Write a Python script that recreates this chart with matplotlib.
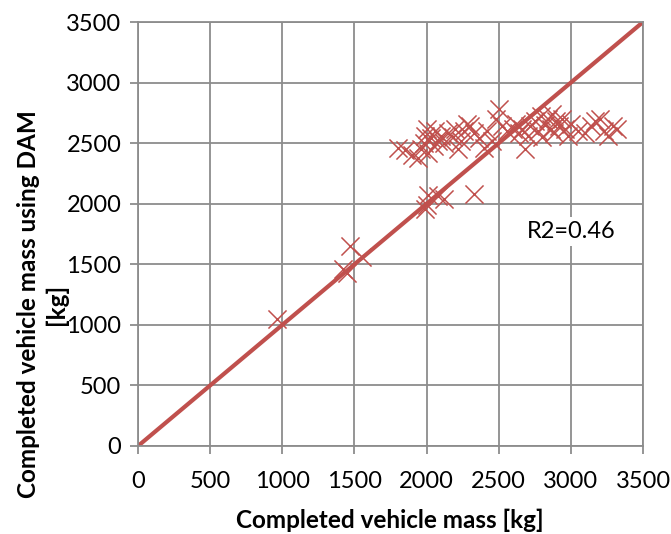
import matplotlib
matplotlib.use("Agg")
import matplotlib.pyplot as plt

mass_x = [960, 1420, 1450, 1470, 1550, 1990, 2000, 2010, 2080, 2120, 2330,
          1800, 1850, 1900, 1940, 1960, 1980, 1990, 2000, 2010, 2030, 2050,
          2060, 2080, 2100, 2120, 2150, 2180, 2200, 2220, 2240, 2260, 2280,
          2300, 2330, 2360, 2400, 2420, 2450, 2480, 2500, 2520, 2560, 2600,
          2620, 2640, 2660, 2680, 2700, 2720, 2750, 2770, 2790, 2800, 2820,
          2840, 2860, 2870, 2880, 2900, 2920, 2940, 2960, 2980, 3000, 3050,
          3100, 3140, 3170, 3200, 3230, 3260, 3290, 3320]
dam_y = [1050, 1460, 1430, 1650, 1560, 1960, 1990, 2070, 2060, 2040, 2080,
         2460, 2440, 2400, 2380, 2450, 2500, 2560, 2620, 2420, 2540, 2480,
         2600, 2520, 2560, 2500, 2580, 2550, 2620, 2450, 2520, 2600, 2660,
         2640, 2580, 2540, 2460, 2600, 2520, 2700, 2780, 2640, 2600, 2620,
         2660, 2580, 2620, 2450, 2560, 2640, 2680, 2600, 2720, 2550, 2650,
         2700, 2620, 2740, 2580, 2680, 2640, 2700, 2620, 2560, 2660, 2600,
         2580, 2640, 2680, 2700, 2600, 2560, 2640, 2620]
ref_line = [0, 3500]
ticks = [0, 500, 1000, 1500, 2000, 2500, 3000, 3500]

red = "#C0504D"
plt.rcParams["font.family"] = ["Lato", "DejaVu Sans"]

fig = plt.figure(figsize=(6.71, 5.34), dpi=100)
ax = fig.add_axes([0.2057, 0.1648, 0.7526, 0.794])

ax.plot(ref_line, ref_line, color=red, lw=3, zorder=2, solid_capstyle="butt")
ax.scatter(mass_x, dam_y, marker="x", s=170, color=red, linewidths=1.1, zorder=3)

ax.set_xlim(0, 3500)
ax.set_ylim(0, 3500)
ax.set_xticks(ticks)
ax.set_yticks(ticks)
ax.tick_params(labelsize=17, colors="#8c8c8c", length=6, width=1.3, labelcolor="black")
ax.tick_params(axis="x", pad=12)
ax.tick_params(axis="y", pad=6)
ax.grid(True, color="#8c8c8c", lw=1.3, zorder=0)
ax.set_axisbelow(True)
for side in ["left", "bottom", "top", "right"]:
    ax.spines[side].set_color("#8c8c8c")
    ax.spines[side].set_linewidth(1.3)

ax.text(3000, 1770, "R2=0.46", fontsize=17, ha="center", va="center", zorder=4,
        bbox=dict(facecolor="white", edgecolor="none", pad=3))

fig.text(0.581, 0.026, "Completed vehicle mass [kg]", fontsize=17.5, fontweight="bold",
         ha="center", va="center")
fig.text(0.063, 0.43, "Completed vehicle mass using DAM\n[kg]", fontsize=17.5,
         fontweight="bold", rotation=90, ha="center", va="center", linespacing=1.25)

fig.savefig("out.png", dpi=100)
